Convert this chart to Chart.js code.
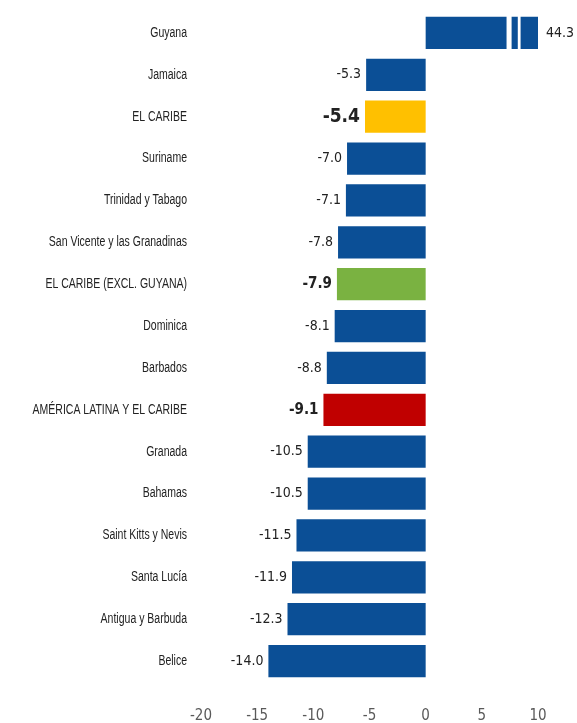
<!DOCTYPE html>
<html lang="es">
<head>
<meta charset="UTF-8">
<title>Variación por país</title>
<style>
  html, body { margin: 0; padding: 0; background: #fff; }
  #wrap { width: 577px; height: 723px; }
</style>
<script src="https://cdn.jsdelivr.net/npm/chart.js"></script>
</head>
<body>
<div id="wrap"><canvas id="chart"></canvas></div>
<script>
const paises = ['Guyana', 'Jamaica', 'EL CARIBE', 'Suriname', 'Trinidad y Tabago',
  'San Vicente y las Granadinas', 'EL CARIBE (EXCL. GUYANA)', 'Dominica', 'Barbados',
  'AMÉRICA LATINA Y EL CARIBE', 'Granada', 'Bahamas', 'Saint Kitts y Nevis',
  'Santa Lucía', 'Antigua y Barbuda', 'Belice'];
const valores = [44.3, -5.3, -5.4, -7.0, -7.1, -7.8, -7.9, -8.1, -8.8, -9.1,
  -10.5, -10.5, -11.5, -11.9, -12.3, -14.0];
const colores = ['#0b4f96', '#0b4f96', '#ffc000', '#0b4f96', '#0b4f96', '#0b4f96',
  '#7ab241', '#0b4f96', '#0b4f96', '#c00000', '#0b4f96', '#0b4f96', '#0b4f96',
  '#0b4f96', '#0b4f96', '#0b4f96'];
const destacados = ['EL CARIBE', 'EL CARIBE (EXCL. GUYANA)', 'AMÉRICA LATINA Y EL CARIBE'];
const ticksX = [-20, -15, -10, -5, 0, 5, 10];

const fuente = '"DejaVu Sans Condensed", sans-serif';
const fuenteEtiq = '"Liberation Sans", Arial, sans-serif';

// nombres de países (estrechos, como Calibri), valores y corte de Guyana
const etiquetas = {
  id: 'etiquetas',
  afterDatasetsDraw(chart) {
    const ctx = chart.ctx;
    const meta = chart.getDatasetMeta(0);
    const xs = chart.scales.x;
    const area = chart.chartArea;
    ctx.save();
    meta.data.forEach((bar, i) => {
      // nombre
      ctx.save();
      ctx.font = '14px ' + fuenteEtiq;
      ctx.fillStyle = '#222';
      ctx.textAlign = 'right';
      ctx.textBaseline = 'middle';
      ctx.translate(187, bar.y);
      ctx.scale(0.75, 1);
      ctx.fillText(paises[i], 0, 0);
      ctx.restore();

      const v = valores[i];
      const txt = v.toFixed(1);
      if (paises[i] === 'EL CARIBE') ctx.font = 'bold 19px ' + fuente;
      else if (destacados.includes(paises[i])) ctx.font = 'bold 15px ' + fuente;
      else ctx.font = '14px ' + fuente;
      ctx.fillStyle = '#222';
      ctx.textBaseline = 'middle';
      if (v < 0) {
        ctx.textAlign = 'right';
        ctx.fillText(txt, bar.x - 5, bar.y);
      } else {
        ctx.textAlign = 'left';
        ctx.fillText(txt, area.right + 8, bar.y);
      }
      if (v > xs.max) {
        const h = bar.height;
        ctx.fillStyle = '#fff';
        const a1 = xs.getPixelForValue(7.2), b1 = xs.getPixelForValue(7.65);
        const a2 = xs.getPixelForValue(8.2), b2 = xs.getPixelForValue(8.45);
        ctx.fillRect(a1, bar.y - h / 2 - 1, b1 - a1, h + 2);
        ctx.fillRect(a2, bar.y - h / 2 - 1, b2 - a2, h + 2);
      }
    });
    ctx.restore();
  }
};

new Chart(document.getElementById('chart'), {
  type: 'bar',
  data: {
    labels: paises,
    datasets: [{
      data: valores,
      backgroundColor: colores,
      borderWidth: 0,
      barPercentage: 0.77,
      categoryPercentage: 1
    }]
  },
  options: {
    indexAxis: 'y',
    responsive: true,
    maintainAspectRatio: false,
    animation: false,
    layout: { padding: { top: 12, right: 39, bottom: 0, left: 0 } },
    plugins: { legend: { display: false }, tooltip: { enabled: false } },
    scales: {
      x: {
        min: -20,
        max: 10,
        afterBuildTicks: (axis) => { axis.ticks = ticksX.map(v => ({ value: v })); },
        afterFit: (axis) => { axis.height = 41; },
        grid: { display: false, drawTicks: false },
        border: { display: false },
        ticks: { color: '#595959', padding: 25, maxRotation: 0, font: { family: fuente, size: 15 } }
      },
      y: {
        afterFit: (axis) => { axis.width = 201; },
        grid: { display: false, drawTicks: false },
        border: { display: false },
        ticks: { display: false }
      }
    }
  },
  plugins: [etiquetas]
});
</script>
</body>
</html>
